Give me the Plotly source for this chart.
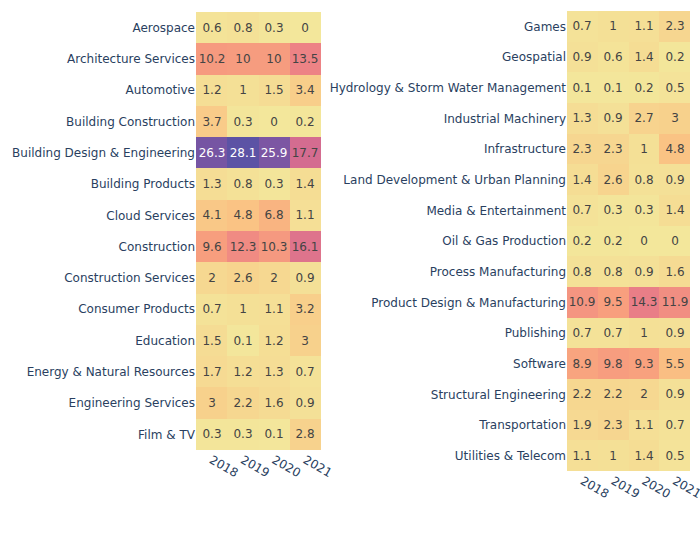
import plotly.graph_objects as go

years = ["2018", "2019", "2020", "2021"]

left_categories = [
    "Aerospace", "Architecture Services", "Automotive", "Building Construction",
    "Building Design & Engineering", "Building Products", "Cloud Services",
    "Construction", "Construction Services", "Consumer Products", "Education",
    "Energy & Natural Resources", "Engineering Services", "Film & TV",
]
left_values = [
    [0.6, 0.8, 0.3, 0],
    [10.2, 10, 10, 13.5],
    [1.2, 1, 1.5, 3.4],
    [3.7, 0.3, 0, 0.2],
    [26.3, 28.1, 25.9, 17.7],
    [1.3, 0.8, 0.3, 1.4],
    [4.1, 4.8, 6.8, 1.1],
    [9.6, 12.3, 10.3, 16.1],
    [2, 2.6, 2, 0.9],
    [0.7, 1, 1.1, 3.2],
    [1.5, 0.1, 1.2, 3],
    [1.7, 1.2, 1.3, 0.7],
    [3, 2.2, 1.6, 0.9],
    [0.3, 0.3, 0.1, 2.8],
]

right_categories = [
    "Games", "Geospatial", "Hydrology & Storm Water Management",
    "Industrial Machinery", "Infrastructure", "Land Development & Urban Planning",
    "Media & Entertainment", "Oil & Gas Production", "Process Manufacturing",
    "Product Design & Manufacturing", "Publishing", "Software",
    "Structural Engineering", "Transportation", "Utilities & Telecom",
]
right_values = [
    [0.7, 1, 1.1, 2.3],
    [0.9, 0.6, 1.4, 0.2],
    [0.1, 0.1, 0.2, 0.5],
    [1.3, 0.9, 2.7, 3],
    [2.3, 2.3, 1, 4.8],
    [1.4, 2.6, 0.8, 0.9],
    [0.7, 0.3, 0.3, 1.4],
    [0.2, 0.2, 0, 0],
    [0.8, 0.8, 0.9, 1.6],
    [10.9, 9.5, 14.3, 11.9],
    [0.7, 0.7, 1, 0.9],
    [8.9, 9.8, 9.3, 5.5],
    [2.2, 2.2, 2, 0.9],
    [1.9, 2.3, 1.1, 0.7],
    [1.1, 1, 1.4, 0.5],
]

fig = go.Figure()
fig.add_trace(go.Heatmap(
    z=left_values, x=years, y=left_categories, coloraxis="coloraxis",
    texttemplate="%{z}", textfont=dict(size=12), xaxis="x", yaxis="y",
))
fig.add_trace(go.Heatmap(
    z=right_values, x=years, y=right_categories, coloraxis="coloraxis",
    texttemplate="%{z}", textfont=dict(size=12), xaxis="x2", yaxis="y2",
))

W, H = 700, 540


def xd(a, b):
    return [a / W, b / W]


def yd(top, bottom):
    return [1 - bottom / H, 1 - top / H]


fig.update_layout(
    width=W, height=H,
    margin=dict(l=0, r=0, t=0, b=0),
    font=dict(family="DejaVu Sans", size=12),
    paper_bgcolor="white", plot_bgcolor="white",
    coloraxis=dict(colorscale="Sunset", cmin=0, cmax=28.1, showscale=False),
    xaxis=dict(domain=xd(196, 321), anchor="y", tickangle=30,
               automargin=False, showgrid=False, ticks=""),
    yaxis=dict(domain=yd(12, 450), anchor="x", autorange="reversed",
               automargin=False, showgrid=False, ticks=""),
    xaxis2=dict(domain=xd(567, 690), anchor="y2", tickangle=30,
                automargin=False, showgrid=False, ticks=""),
    yaxis2=dict(domain=yd(11, 471), anchor="x2", autorange="reversed",
                automargin=False, showgrid=False, ticks=""),
)

fig.write_html("out.html", config={"displayModeBar": False},
               post_script="document.body.style.margin='0';")
